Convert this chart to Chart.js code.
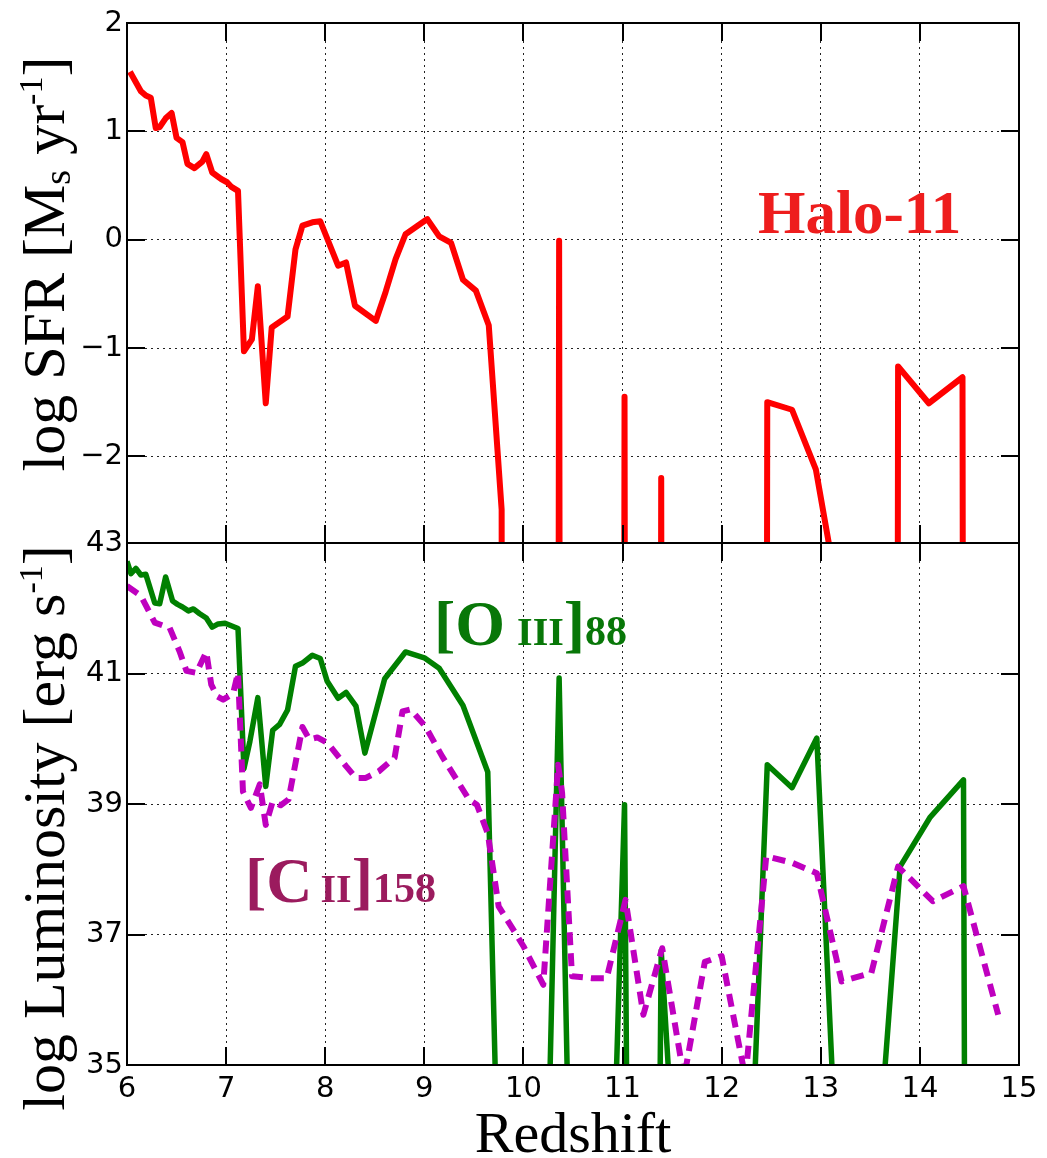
<!DOCTYPE html>
<html>
<head>
<meta charset="utf-8">
<script src="https://cdn.jsdelivr.net/npm/chart.js@4.4.1/dist/chart.umd.min.js"></script>
<style>
html,body{margin:0;padding:0;background:#fff;}
#wrap{position:relative;width:1047px;height:1158px;overflow:hidden;}
canvas{position:absolute;left:0;top:0;}
</style>
</head>
<body>
<div id="wrap">
<canvas id="c1" width="1047" height="1158"></canvas>
<canvas id="c2" width="1047" height="1158"></canvas>
</div>
<script>
// ---------- tick labels ----------
const zTicks = [6, 7, 8, 9, 10, 11, 12, 13, 14, 15];
const sfrTicks = [2, 1, 0, -1, -2];
const lumTicks = [43, 41, 39, 37, 35];

// ---------- top panel: log SFR (Halo-11) ----------
const sfrZ = [6.03,6.14,6.19,6.24,6.29,6.33,6.39,6.45,6.50,6.56,6.61,6.68,6.76,6.80,6.86,6.95,7.01,7.05,7.12,7.18,
  7.26,7.32,7.40,7.46,7.62,7.70,7.77,7.87,7.95,8.13,8.21,8.30,8.51,8.61,8.71,8.81,9.03,9.15,9.27,9.39,
  9.52,9.65,9.78,9.80,10.33,10.36,10.39,10.99,11.02,11.05,11.36,11.39,11.42,12.43,12.46,12.71,12.95,13.20,13.30,13.75,
  13.78,14.09,14.43,14.46];
const sfrLog = [1.55,1.37,1.33,1.31,1.03,1.04,1.12,1.17,0.94,0.90,0.70,0.66,0.72,0.79,0.62,0.56,0.53,0.49,0.45,-1.03,
  -0.92,-0.43,-1.51,-0.81,-0.71,-0.09,0.13,0.16,0.17,-0.24,-0.21,-0.61,-0.75,-0.48,-0.18,0.05,0.19,0.03,-0.03,-0.37,
  -0.47,-0.79,-2.49,-20,-20,-0.01,-20,-20,-1.45,-20,-20,-2.20,-20,-20,-1.50,-1.57,-2.12,-3.42,-20,-20,
  -1.17,-1.51,-1.27,-20];

// ---------- bottom panel: [O III] 88 ----------
const oiiiZ = [6.00,6.04,6.09,6.14,6.19,6.28,6.33,6.39,6.46,6.51,6.56,6.62,6.67,6.73,6.80,6.86,6.92,6.99,7.12,7.18,
  7.24,7.32,7.40,7.47,7.54,7.62,7.70,7.77,7.87,7.95,8.02,8.13,8.21,8.31,8.40,8.60,8.81,9.00,9.15,9.39,
  9.64,9.78,10.25,10.36,10.47,10.90,11.02,11.05,11.37,11.39,11.50,12.30,12.46,12.71,12.96,13.20,13.60,13.80,14.10,14.44,
  14.46];
const oiiiLum = [42.72,42.53,42.61,42.51,42.52,42.08,42.07,42.48,42.11,42.06,42.02,41.96,41.99,41.92,41.85,41.71,41.76,41.77,41.69,39.54,
  39.96,40.63,39.27,40.13,40.22,40.44,41.11,41.16,41.28,41.23,40.88,40.62,40.71,40.50,39.78,40.92,41.33,41.24,41.08,40.51,
  39.49,31.0,33.7,40.93,32.8,33.0,38.99,33.0,33.25,36.75,34.0,33.5,39.60,39.25,40.01,32.1,34.0,38.04,38.79,39.37,
  30.0];

// ---------- bottom panel: [C II] 158 ----------
const ciiZ = [6.00,6.14,6.28,6.43,6.53,6.60,6.70,6.80,6.85,6.91,6.97,7.07,7.12,7.17,7.25,7.34,7.40,7.47,7.55,7.63,
  7.77,7.84,7.92,8.02,8.21,8.31,8.41,8.54,8.70,8.78,8.86,9.01,9.18,9.45,9.53,9.64,9.75,9.92,10.00,10.20,
  10.35,10.39,10.49,10.69,10.84,11.03,11.21,11.40,11.62,11.83,12.00,12.24,12.45,12.71,12.96,13.21,13.51,13.78,14.13,14.44,
  14.79];
const ciiLum = [42.34,42.19,41.78,41.70,41.34,41.04,41.01,41.33,40.83,40.65,40.60,40.69,41.01,39.19,38.94,39.30,38.68,39.04,38.98,39.07,
  40.18,39.99,40.02,39.94,39.58,39.40,39.40,39.50,39.71,40.42,40.45,40.19,39.73,39.07,38.99,38.55,37.43,37.02,36.82,36.23,
  39.60,39.17,36.36,36.33,36.33,37.53,35.77,36.79,34.8,36.58,36.67,34.8,38.20,38.10,37.94,36.28,36.41,38.04,37.51,37.74,
  35.77];

const pts = (xs, ys) => xs.map((x, i) => ({x: x, y: ys[i]}));
const fmt = v => (v < 0 ? '\u2212' + Math.abs(v) : String(v));
const TICKFONT = {family: '"DejaVu Sans"', size: 29};
const SERIF = '"Liberation Serif", "Times New Roman", serif';
const TICKLEN = 18, TICKW = 2;

function drawRuns(ctx, runs, x, y, align) {
  let total = 0;
  runs.forEach(r => { ctx.font = r.f; r.w = ctx.measureText(r.t).width; total += r.w + (r.gap || 0); });
  let cx = align === 'center' ? x - total / 2 : x;
  runs.forEach(r => {
    cx += (r.gap || 0);
    ctx.font = r.f;
    ctx.fillText(r.t, cx, y + (r.dy || 0));
    cx += r.w;
  });
}

function framePlugin(yTicks, texts) {
  return {
    id: 'frame',
    afterDraw(chart) {
      const ctx = chart.ctx;
      const a = chart.chartArea;
      const xs = chart.scales.x, ys = chart.scales.y;
      ctx.save();
      ctx.setLineDash([]);
      ctx.fillStyle = '#000';
      // inward major ticks on all four sides
      for (const v of zTicks) {
        const px = Math.round(xs.getPixelForValue(v)) - TICKW / 2;
        ctx.fillRect(px, a.top, TICKW, TICKLEN);
        ctx.fillRect(px, a.bottom - TICKLEN, TICKW, TICKLEN);
      }
      for (const v of yTicks) {
        const py = Math.round(ys.getPixelForValue(v)) - TICKW / 2;
        ctx.fillRect(a.left, py, TICKLEN, TICKW);
        ctx.fillRect(a.right - TICKLEN, py, TICKLEN, TICKW);
      }
      // frame
      ctx.fillRect(a.left - 1, a.top - 1, a.right - a.left + 2, 2);
      ctx.fillRect(a.left - 1, a.bottom - 1, a.right - a.left + 2, 2);
      ctx.fillRect(a.left - 1, a.top - 1, 2, a.bottom - a.top + 2);
      ctx.fillRect(a.right - 1, a.top - 1, 2, a.bottom - a.top + 2);
      ctx.restore();
      ctx.save();
      ctx.setLineDash([]);
      ctx.textBaseline = 'alphabetic';
      texts(ctx, chart);
      ctx.restore();
    }
  };
}

function commonX(showLabels, axisHeight) {
  return {
    type: 'linear', min: 6, max: 15,
    afterBuildTicks: s => { s.ticks = zTicks.map(v => ({value: v})); },
    afterFit: s => { s.height = axisHeight; },
    ticks: {display: showLabels, autoSkip: false, maxRotation: 0, color: '#000', font: TICKFONT, padding: 7,
      callback: v => fmt(v)},
    grid: {display: true, color: '#222', lineWidth: 1, drawTicks: false},
    border: {display: false, dash: [2, 4]}
  };
}
function commonY(min, max, tickVals) {
  return {
    type: 'linear', min: min, max: max,
    afterBuildTicks: s => { s.ticks = tickVals.map(v => ({value: v})); },
    afterFit: s => { s.width = 127; },
    ticks: {color: '#000', font: TICKFONT, padding: 4, callback: v => fmt(v)},
    grid: {display: true, color: '#222', lineWidth: 1, drawTicks: false},
    border: {display: false, dash: [2, 4]}
  };
}

Chart.defaults.animation = false;

// ---------- top chart ----------
new Chart(document.getElementById('c1'), {
  type: 'line',
  data: {datasets: [{
    data: pts(sfrZ, sfrLog), borderColor: '#ff0000', borderWidth: 6,
    pointRadius: 0, tension: 0, clip: 0, borderJoinStyle: 'round', borderCapStyle: 'butt'
  }]},
  options: {
    responsive: false, devicePixelRatio: 1,
    layout: {padding: {left: 0, right: 28, top: 23, bottom: 0}, autoPadding: false},
    plugins: {legend: {display: false}, tooltip: {enabled: false}},
    scales: {x: commonX(false, 1158 - 543), y: commonY(-2.8, 2, sfrTicks)}
  },
  plugins: [framePlugin(sfrTicks, (ctx) => {
    ctx.fillStyle = '#000';
    ctx.save();
    ctx.translate(64, 264);
    ctx.rotate(-Math.PI / 2);
    drawRuns(ctx, [
      {t: 'log SFR [M', f: '60px ' + SERIF},
      {t: 's', f: '38px ' + SERIF, dy: 6},
      {t: ' yr', f: '60px ' + SERIF},
      {t: '-1', f: '34px ' + SERIF, dy: -22},
      {t: ']', f: '60px ' + SERIF}
    ], 0, 0, 'center');
    ctx.restore();
    ctx.fillStyle = '#ee1d1d';
    drawRuns(ctx, [{t: 'Halo-11', f: 'bold 61px ' + SERIF}], 758, 233, 'left');
  })]
});

// ---------- bottom chart ----------
new Chart(document.getElementById('c2'), {
  type: 'line',
  data: {datasets: [
    {data: pts(ciiZ, ciiLum), borderColor: '#bf00bf', borderWidth: 6, borderDash: [13, 8],
      pointRadius: 0, tension: 0, clip: 0, borderJoinStyle: 'round', borderCapStyle: 'butt'},
    {data: pts(oiiiZ, oiiiLum), borderColor: '#008000', borderWidth: 5.5,
      pointRadius: 0, tension: 0, clip: 0, borderJoinStyle: 'round', borderCapStyle: 'butt'}
  ]},
  options: {
    responsive: false, devicePixelRatio: 1,
    layout: {padding: {left: 0, right: 28, top: 543, bottom: 0}, autoPadding: false},
    plugins: {legend: {display: false}, tooltip: {enabled: false}},
    scales: {x: commonX(true, 1158 - 1065), y: commonY(35, 43, lumTicks)}
  },
  plugins: [framePlugin(lumTicks, (ctx) => {
    ctx.fillStyle = '#000';
    ctx.save();
    ctx.translate(64, 828);
    ctx.rotate(-Math.PI / 2);
    drawRuns(ctx, [
      {t: 'log Luminosity [erg s', f: '60px ' + SERIF},
      {t: '-1', f: '34px ' + SERIF, dy: -22},
      {t: ']', f: '60px ' + SERIF}
    ], 0, 0, 'center');
    ctx.restore();
    drawRuns(ctx, [{t: 'Redshift', f: '58px ' + SERIF}], 573, 1152, 'center');
    ctx.fillStyle = '#087708';
    drawRuns(ctx, [
      {t: '[O', f: 'bold 64px ' + SERIF},
      {t: 'III', f: 'bold 40px ' + SERIF, gap: 12},
      {t: ']', f: 'bold 64px ' + SERIF},
      {t: '88', f: 'bold 42px ' + SERIF}
    ], 434, 645, 'left');
    ctx.fillStyle = '#9b1b5e';
    drawRuns(ctx, [
      {t: '[C', f: 'bold 64px ' + SERIF},
      {t: 'II', f: 'bold 40px ' + SERIF, gap: 8},
      {t: ']', f: 'bold 64px ' + SERIF},
      {t: '158', f: 'bold 42px ' + SERIF}
    ], 245, 902, 'left');
  })]
});
</script>
</body>
</html>
